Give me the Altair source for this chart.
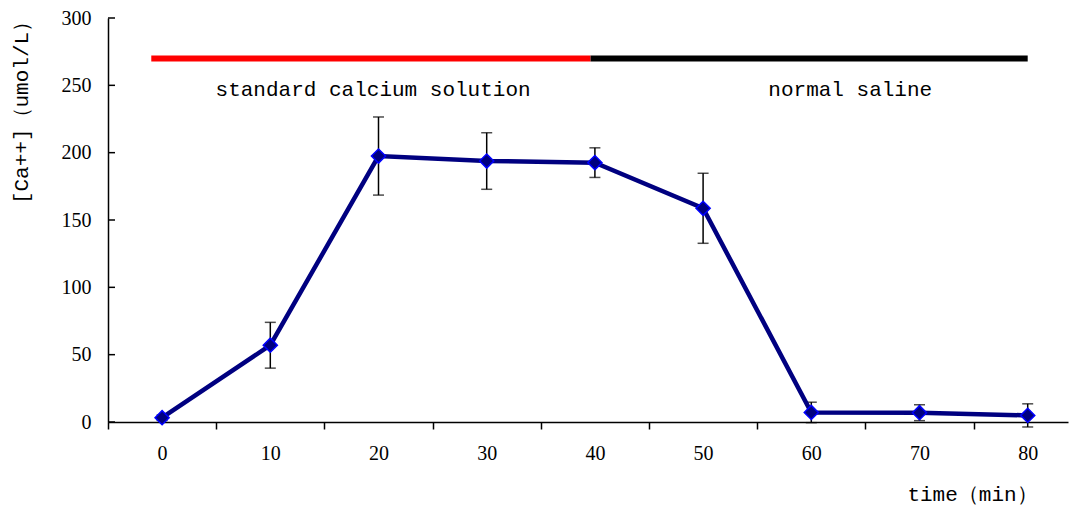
import altair as alt
import pandas as pd

# ---- data ----
times = [0, 10, 20, 30, 40, 50, 60, 70, 80]
calcium = [3.2, 57.0, 197.5, 193.8, 192.6, 158.7, 7.1, 6.9, 4.9]
sem = [2.0, 17.0, 29.0, 21.0, 11.0, 26.0, 7.6, 5.9, 8.6]

y_ticks = [0, 50, 100, 150, 200, 250, 300]

phase_start = [-1.0, 39.6]
phase_end = [39.6, 80.0]
phase_level = [270, 270]
phase_color = ["#FF0000", "#000000"]
phase_names = ["standard calcium solution", "normal saline"]
label_x = [19.5, 63.6]
label_y = [246.5, 246.5]

df = pd.DataFrame({"time": times, "ca": calcium, "sem": sem})
df["lo"] = df["ca"] - df["sem"]
df["hi"] = df["ca"] + df["sem"]
phases = pd.DataFrame({"start": phase_start, "end": phase_end, "level": phase_level,
                       "color": phase_color, "name": phase_names,
                       "lx": label_x, "ly": label_y})
yt = pd.DataFrame({"v": y_ticks})

W, H = 960, 404
PXU = 10.82
XDOM = [-5, -5 + W / PXU]
half = 5 * PXU

xscale = alt.Scale(domain=XDOM, nice=False, zero=False)
yscale = alt.Scale(domain=[0, 300], nice=False, zero=False)

xaxis = alt.Axis(values=times, tickOffset=-half, labelOffset=half, tickSize=7,
                 tickWidth=1.5, tickColor="black", domainColor="black", domainWidth=1.5,
                 labelPadding=14, labelFont="Liberation Serif", labelFontSize=20,
                 labelColor="black", grid=False,
                 title="time（min）", titleFont="Liberation Mono", titleFontSize=21,
                 titleFontWeight="normal", titleColor="black",
                 titleX=864, titleY=72, titleAlign="center", titleBaseline="middle")
yaxis = alt.Axis(values=y_ticks, ticks=False, domainColor="black", domainWidth=1.5,
                 labelPadding=17, labelFont="Liberation Serif", labelFontSize=20,
                 labelColor="black", grid=False,
                 title="[Ca++]（umol/L）", titleFont="Liberation Mono", titleFontSize=21,
                 titleFontWeight="normal", titleColor="black",
                 titleX=-87, titleY=89, titleAlign="center", titleBaseline="middle")

X = alt.X("time:Q", scale=xscale, axis=xaxis)
Y = alt.Y("ca:Q", scale=yscale, axis=yaxis)

base = alt.Chart(df)

phase_rules = alt.Chart(phases).mark_rule(strokeWidth=6, strokeCap="butt").encode(
    x=alt.X("start:Q", scale=xscale, axis=xaxis),
    x2="end:Q",
    y=alt.Y("level:Q", scale=yscale, axis=yaxis),
    color=alt.Color("color:N", scale=None),
)
phase_text = alt.Chart(phases).mark_text(font="Liberation Mono", fontSize=21,
                                         color="black", baseline="middle").encode(
    x=alt.X("lx:Q", scale=xscale, axis=xaxis),
    y=alt.Y("ly:Q", scale=yscale, axis=yaxis),
    text="name:N",
)

err = base.mark_rule(color="black", strokeWidth=1.5).encode(
    x=X, y=alt.Y("lo:Q", scale=yscale, axis=yaxis), y2="hi:Q")
cap_hi = base.mark_tick(color="black", orient="horizontal", size=11, thickness=1.5).encode(
    x=X, y=alt.Y("hi:Q", scale=yscale, axis=yaxis))
cap_lo = base.mark_tick(color="black", orient="horizontal", size=11, thickness=1.5).encode(
    x=X, y=alt.Y("lo:Q", scale=yscale, axis=yaxis))

line = base.mark_line(color="#000080", strokeWidth=4.5).encode(x=X, y=Y)
pts = base.mark_point(shape="diamond", size=200, fill="#000080", stroke="#0000FF",
                      strokeWidth=1.5, fillOpacity=1, opacity=1).encode(x=X, y=Y)

ytick_marks = alt.Chart(yt).mark_rule(color="black", strokeWidth=1.5).encode(
    x=alt.value(0), x2=alt.value(7),
    y=alt.Y("v:Q", scale=yscale, axis=yaxis))

chart = alt.layer(phase_rules, phase_text, err, cap_hi, cap_lo, line, pts, ytick_marks).properties(
    width=W, height=H,
    autosize=alt.AutoSizeParams(type="none"),
    padding={"left": 100, "top": 10, "right": 1, "bottom": 84},
    background="white",
).configure_view(stroke=None)

chart.save("out.html", embed_options={"renderer": "svg", "actions": False})
